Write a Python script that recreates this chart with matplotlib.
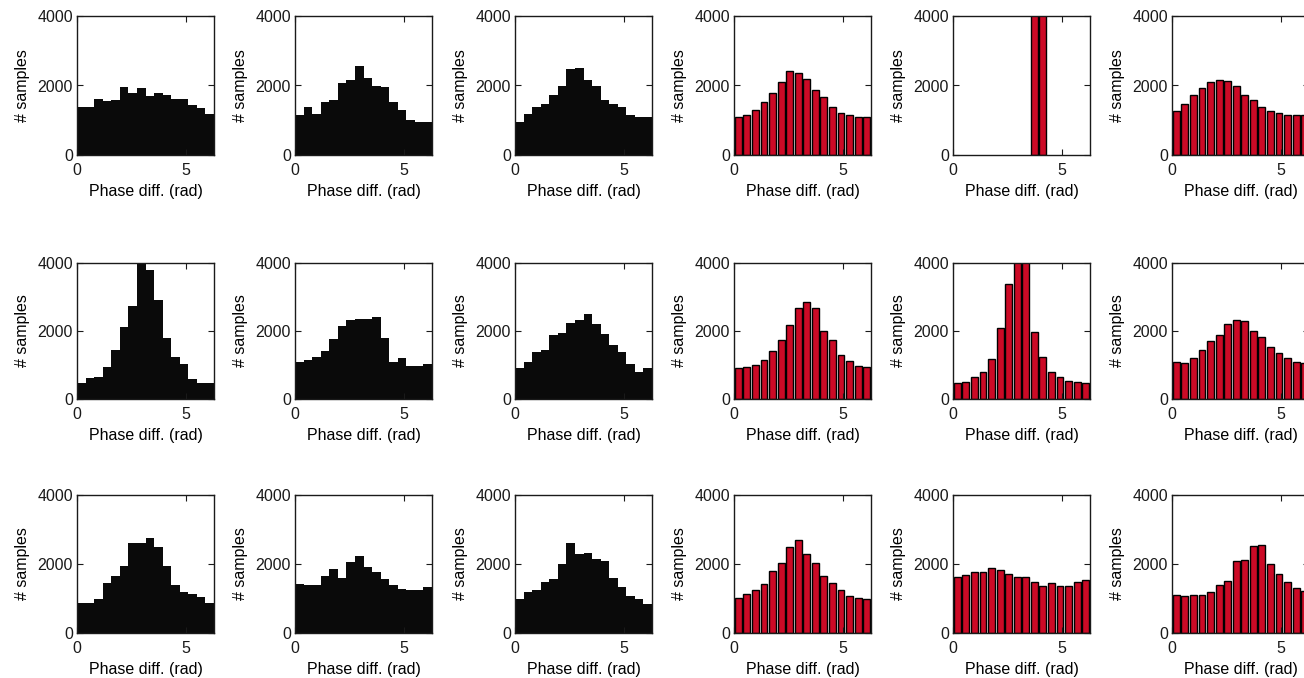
import numpy as np
import matplotlib
matplotlib.use("Agg")
import matplotlib.pyplot as plt

plt.rcParams['font.family'] = ['Liberation Sans', 'DejaVu Sans']
plt.rcParams['font.size'] = 11.5
plt.rcParams['text.color'] = '#1a1a1a'
plt.rcParams['xtick.color'] = '#1a1a1a'
plt.rcParams['ytick.color'] = '#1a1a1a'

# 16 bins over one full cycle
n_bins = 16
edges = np.linspace(0, 2 * np.pi, n_bins + 1)

# counts per bin (values above 4000 are clipped)
r1c1 = [1370, 1370, 1600, 1540, 1580, 1950, 1790, 1920, 1710, 1790, 1730, 1610, 1610, 1440, 1340, 1170]
r1c2 = [1150, 1370, 1180, 1530, 1580, 2060, 2160, 2560, 2230, 1990, 1950, 1530, 1300, 1010, 960, 960]
r1c3 = [960, 1180, 1370, 1470, 1730, 1990, 2470, 2490, 2160, 1990, 1580, 1470, 1390, 1150, 1100, 1100]
r1c4 = [1100, 1150, 1300, 1520, 1780, 2100, 2420, 2350, 2200, 1870, 1680, 1380, 1200, 1150, 1080, 1080]
r1c5 = [0, 0, 0, 0, 0, 0, 0, 0, 0, 9000, 8500, 0, 0, 0, 0, 0]
r1c6 = [1270, 1460, 1730, 1920, 2090, 2160, 2130, 1990, 1730, 1570, 1390, 1270, 1200, 1160, 1160, 1160]

r2c1 = [480, 620, 660, 950, 1450, 2130, 2750, 4300, 3780, 2900, 1780, 1250, 1020, 580, 480, 480]
r2c2 = [1080, 1150, 1230, 1420, 1760, 2150, 2310, 2340, 2340, 2400, 1800, 1100, 1210, 960, 960, 1040]
r2c3 = [920, 1100, 1380, 1440, 1880, 1950, 2250, 2330, 2500, 2200, 1920, 1580, 1380, 1020, 800, 900]
r2c4 = [900, 940, 1010, 1160, 1400, 1740, 2180, 2680, 2840, 2680, 2000, 1740, 1300, 1120, 980, 950]
r2c5 = [470, 500, 650, 790, 1180, 2100, 3380, 4600, 4500, 1960, 1250, 790, 650, 540, 500, 470]
r2c6 = [1100, 1050, 1220, 1430, 1720, 1880, 2220, 2330, 2290, 2000, 1820, 1530, 1340, 1210, 1100, 1060]

r3c1 = [880, 880, 1000, 1440, 1660, 1930, 2600, 2600, 2750, 2480, 1930, 1400, 1180, 1120, 1030, 860]
r3c2 = [1420, 1380, 1380, 1640, 1860, 1600, 2060, 2220, 1900, 1760, 1560, 1380, 1270, 1240, 1240, 1330]
r3c3 = [980, 1200, 1260, 1480, 1560, 2000, 2620, 2300, 2330, 2150, 2080, 1600, 1320, 1080, 980, 830]
r3c4 = [1020, 1120, 1240, 1420, 1800, 2040, 2480, 2700, 2300, 2040, 1650, 1460, 1240, 1060, 1020, 990]
r3c5 = [1620, 1690, 1770, 1770, 1880, 1840, 1720, 1620, 1620, 1470, 1360, 1440, 1360, 1360, 1480, 1550]
r3c6 = [1110, 1080, 1110, 1110, 1200, 1400, 1500, 2080, 2120, 2520, 2560, 2000, 1720, 1470, 1300, 1220]

panels = [
    [r1c1, r1c2, r1c3, r1c4, r1c5, r1c6],
    [r2c1, r2c2, r2c3, r2c4, r2c5, r2c6],
    [r3c1, r3c2, r3c3, r3c4, r3c5, r3c6],
]

W, H = 1304, 678
fig = plt.figure(figsize=(W / 100, H / 100), dpi=100)

col_left = [77, 295, 515, 734, 953, 1172]
row_top = [16, 263, 495]
row_bottom = [155, 399, 633]
ax_w = 137

red = '#cc0a26'
width = edges[1] - edges[0]
centers = edges[:-1] + width / 2

for i, row in enumerate(panels):
    for j, counts in enumerate(row):
        left = col_left[j] / W
        bottom = 1 - row_bottom[i] / H
        height = (row_bottom[i] - row_top[i]) / H
        ax = fig.add_axes([left, bottom, ax_w / W, height])

        if j < 3:
            # raw data: black, bars touching
            ax.bar(centers, counts, width=width, color='#0a0a0a', edgecolor='none')
        else:
            # surrogate: red with black edges, skip empty bins
            c = np.array(counts)
            m = c > 0
            ax.bar(centers[m], c[m], width=width * 0.8, color=red, edgecolor='black', linewidth=1.0)

        ax.set_xlim(0, 2 * np.pi)
        ax.set_ylim(0, 4000)
        ax.set_xticks([0, 5])
        ax.set_yticks([0, 2000, 4000])
        ax.tick_params(direction='in', length=4, width=0.8, top=True, right=True)
        ax.tick_params(axis='x', pad=6)
        ax.tick_params(axis='y', pad=3)
        for s in ax.spines.values():
            s.set_linewidth(1.0)
            s.set_color('#1a1a1a')
        ax.set_xlabel('Phase diff. (rad)', labelpad=4)
        ax.set_ylabel('# samples', labelpad=5)

fig.savefig('out.png', dpi=100)
